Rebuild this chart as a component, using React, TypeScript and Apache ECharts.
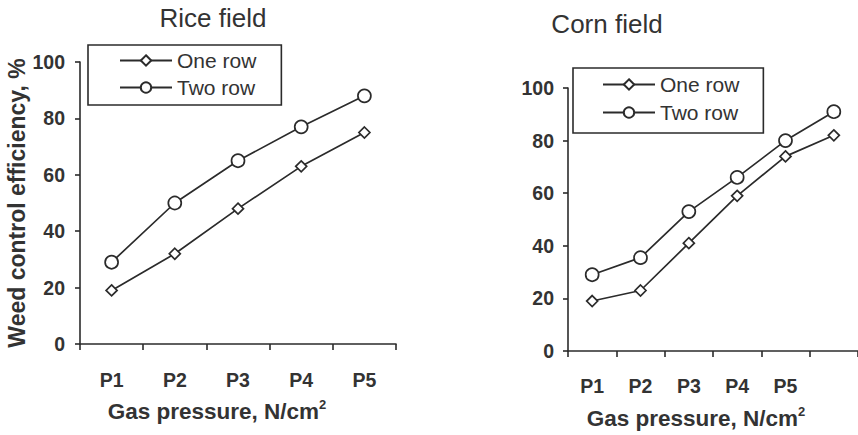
import React, { useEffect, useRef } from 'react';
import * as echarts from 'echarts';

const riceCategories = ['P1', 'P2', 'P3', 'P4', 'P5'];
const riceOneRow = [19, 32, 48, 63, 75];
const riceTwoRow = [29, 50, 65, 77, 88];

const cornCategories = ['P1', 'P2', 'P3', 'P4', 'P5', ''];
const cornOneRow = [19, 23, 41, 59, 74, 82];
const cornTwoRow = [29, 35.5, 53, 66, 80, 91];

const seriesNames = ['One row', 'Two row'];
const yMin = 0;
const yMax = 100;
const yInterval = 20;

const INK = '#2b2b2b';
const TXT = '#333';
const FONT = '"Liberation Sans", Arial, sans-serif';

export default function App() {
  const ref = useRef<HTMLDivElement>(null);
  useEffect(() => {
    if (!ref.current) return;
    const chart = echarts.init(ref.current, null, { renderer: 'svg' });

    const xAxisBase = (cats: string[], gridIndex: number, margin: number) => ({
      type: 'category' as const,
      gridIndex,
      data: cats,
      boundaryGap: true,
      axisLine: { show: true, lineStyle: { color: INK, width: 1.6 } },
      axisTick: { show: true, length: 6, inside: false, lineStyle: { color: INK, width: 1.6 } },
      axisLabel: { color: TXT, fontWeight: 'bold', fontSize: 19.5, fontFamily: FONT, margin, interval: 0 },
      splitLine: { show: false },
    });
    const yAxisBase = (gridIndex: number, margin: number) => ({
      type: 'value' as const,
      gridIndex,
      min: yMin,
      max: yMax,
      interval: yInterval,
      axisLine: { show: true, lineStyle: { color: INK, width: 1.6 } },
      axisTick: { show: true, length: 5, inside: false, lineStyle: { color: INK, width: 1.6 } },
      axisLabel: { color: TXT, fontWeight: 'bold', fontSize: 19.5, fontFamily: FONT, margin },
      splitLine: { show: false },
    });

    const lineSeries = (name: string, data: number[], idx: number, symbol: string, size: number) => ({
      type: 'line' as const,
      name,
      data,
      xAxisIndex: idx,
      yAxisIndex: idx,
      symbol,
      symbolSize: size,
      showAllSymbol: true,
      lineStyle: { color: INK, width: 1.7 },
      itemStyle: { color: '#fff', borderColor: INK, borderWidth: 1.7 },
      emphasis: { disabled: true },
      z: symbol === 'circle' ? 3 : 2,
    });

    const legendBase = {
      orient: 'vertical' as const,
      data: seriesNames,
      itemWidth: 52,
      itemHeight: 13,
      itemGap: 6,
      borderColor: INK,
      borderWidth: 1.6,
      borderRadius: 0,
      textStyle: { color: TXT, fontSize: 21, fontFamily: FONT },
      selectedMode: false,
    };

    const axisNameStyle = {
      a: { fill: TXT, fontSize: 22.5, fontWeight: 'bold', fontFamily: FONT },
      s: { fill: TXT, fontSize: 13, fontWeight: 'bold', fontFamily: FONT, padding: [0, 0, 13, 0] },
    };

    chart.setOption({
      animation: false,
      backgroundColor: '#fff',
      textStyle: { fontFamily: FONT },
      grid: [
        { left: 80, top: 62, width: 316, height: 282, containLabel: false },
        { left: 568, top: 88, width: 297, height: 263, containLabel: false },
      ],
      xAxis: [xAxisBase(riceCategories, 0, 26), xAxisBase(cornCategories, 1, 25)],
      yAxis: [
        {
          ...yAxisBase(0, 15),
          name: 'Weed control efficiency, %',
          nameLocation: 'middle',
          nameRotate: 90,
          nameGap: 52,
          nameTextStyle: { color: TXT, fontWeight: 'bold', fontSize: 23, fontFamily: FONT },
        },
        yAxisBase(1, 14),
      ],
      legend: [
        { ...legendBase, left: 88, top: 45, padding: [5, 25, 7, 31] },
        { ...legendBase, left: 573, top: 68, padding: [6, 24, 10, 29], itemGap: 7 },
      ],
      series: [
        lineSeries(seriesNames[0], riceOneRow, 0, 'diamond', 11),
        lineSeries(seriesNames[1], riceTwoRow, 0, 'circle', 13),
        lineSeries(seriesNames[0], cornOneRow, 1, 'diamond', 11),
        lineSeries(seriesNames[1], cornTwoRow, 1, 'circle', 13),
      ],
      graphic: [
        {
          type: 'text', x: 213, y: 18,
          style: { text: 'Rice field', fill: TXT, font: `26px ${FONT}`, align: 'center', verticalAlign: 'middle' },
        },
        {
          type: 'text', x: 607, y: 24,
          style: { text: 'Corn field', fill: TXT, font: `26px ${FONT}`, align: 'center', verticalAlign: 'middle' },
        },
        {
          type: 'text', x: 217, y: 411,
          style: { text: '{a|Gas pressure, N/cm}{s|2}', align: 'center', verticalAlign: 'middle', rich: axisNameStyle },
        },
        {
          type: 'text', x: 696, y: 418,
          style: { text: '{a|Gas pressure, N/cm}{s|2}', align: 'center', verticalAlign: 'middle', rich: axisNameStyle },
        },
      ],
    });
    return () => chart.dispose();
  }, []);
  return <div ref={ref} style={{ width: 858, height: 435, position: 'absolute', left: 0, top: 0 }} />;
}
